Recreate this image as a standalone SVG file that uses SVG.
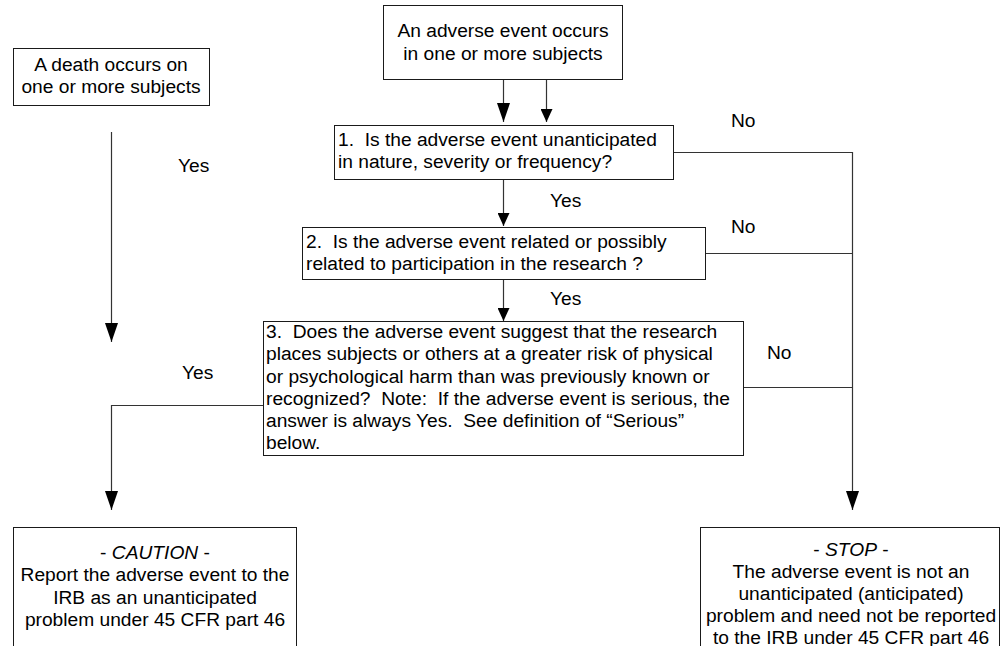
<svg xmlns="http://www.w3.org/2000/svg" width="1000" height="646" viewBox="0 0 1000 646">
<style>
.box{fill:#fff;stroke:#1a1a1a;stroke-width:1}
.t{font-family:"Liberation Sans",Arial,sans-serif;font-size:19.2px;fill:#000;white-space:pre}
.c{text-anchor:middle}
.ln{fill:none;stroke:#333;stroke-width:1.2}
.big{marker-end:url(#ab)}
.sm{marker-end:url(#as)}
</style>
<defs>
<marker id="ab" markerUnits="userSpaceOnUse" markerWidth="19" markerHeight="13" refX="19" refY="6.5" orient="auto" viewBox="0 0 19 13">
<path d="M0,0 L19,6.5 L0,13 z" fill="#000"/>
</marker>
<marker id="as" markerUnits="userSpaceOnUse" markerWidth="13" markerHeight="12" refX="13" refY="6" orient="auto" viewBox="0 0 13 12">
<path d="M0,0 L13,6 L0,12 z" fill="#000"/>
</marker>
</defs>
<rect width="1000" height="646" fill="#fff"/>

<g id="connectors">
<line class="ln big" x1="503.5" y1="79" x2="503.5" y2="122"/>
<line class="ln sm" x1="546.5" y1="75" x2="546.5" y2="122"/>
<line class="ln sm" x1="503.5" y1="180" x2="503.5" y2="226"/>
<line class="ln sm" x1="503.5" y1="279" x2="503.5" y2="321"/>
<line class="ln big" x1="111.5" y1="132" x2="111.5" y2="342"/>
<polyline class="ln" points="673,152.5 852.5,152.5 852.5,300"/>
<line class="ln" x1="705" y1="253.5" x2="852.5" y2="253.5"/>
<line class="ln" x1="744" y1="387.5" x2="852.5" y2="387.5"/>
<line class="ln big" x1="852.5" y1="300" x2="852.5" y2="510"/>
<polyline class="ln big" points="263,405.5 111.5,405.5 111.5,510"/>
<text class="t" x="178" y="172">Yes</text>
<text class="t" x="550" y="207">Yes</text>
<text class="t" x="550" y="305">Yes</text>
<text class="t" x="182" y="379">Yes</text>
<text class="t" x="731" y="127">No</text>
<text class="t" x="731" y="233">No</text>
<text class="t" x="767" y="359">No</text>
</g>

<g id="start-adverse">
<rect class="box" x="383.5" y="5.5" width="239" height="74"/>
<text class="t c" x="503" y="37">An adverse event occurs</text>
<text class="t c" x="503" y="60">in one or more subjects</text>
</g>

<g id="start-death">
<rect class="box" x="13.5" y="48.5" width="196" height="57"/>
<text class="t c" x="111" y="71">A death occurs on</text>
<text class="t c" x="111" y="93">one or more subjects</text>
</g>

<g id="q1">
<rect class="box" x="334.5" y="125.5" width="339" height="54"/>
<text class="t" x="338" y="146">1.  Is the adverse event unanticipated</text>
<text class="t" x="338" y="168">in nature, severity or frequency?</text>
</g>

<g id="q2">
<rect class="box" x="302.5" y="227.5" width="403" height="52"/>
<text class="t" x="306" y="248">2.  Is the adverse event related or possibly</text>
<text class="t" x="306" y="270">related to participation in the research ?</text>
</g>

<g id="q3">
<rect class="box" x="263.5" y="321.5" width="480" height="134"/>
<text class="t" x="266" y="338">3.  Does the adverse event suggest that the research</text>
<text class="t" x="266" y="360">places subjects or others at a greater risk of physical</text>
<text class="t" x="266" y="382.5">or psychological harm than was previously known or</text>
<text class="t" x="266" y="404.5">recognized?  Note:  If the adverse event is serious, the</text>
<text class="t" x="266" y="427">answer is always Yes.  See definition of “Serious”</text>
<text class="t" x="266" y="449">below.</text>
</g>

<g id="caution">
<rect class="box" x="13.5" y="527.5" width="283" height="130"/>
<text class="t c" x="155" y="559">- <tspan font-style="italic">CAUTION</tspan> -</text>
<text class="t c" x="155" y="581">Report the adverse event to the</text>
<text class="t c" x="155" y="604">IRB as an unanticipated</text>
<text class="t c" x="155" y="626">problem under 45 CFR part 46</text>
</g>

<g id="stop">
<rect class="box" x="700.5" y="527.5" width="299" height="130"/>
<text class="t c" x="851" y="556">- <tspan font-style="italic">STOP</tspan> -</text>
<text class="t c" x="851" y="578">The adverse event is not an</text>
<text class="t c" x="851" y="600">unanticipated (anticipated)</text>
<text class="t c" x="851" y="622">problem and need not be reported</text>
<text class="t c" x="851" y="644">to the IRB under 45 CFR part 46</text>
</g>
</svg>
